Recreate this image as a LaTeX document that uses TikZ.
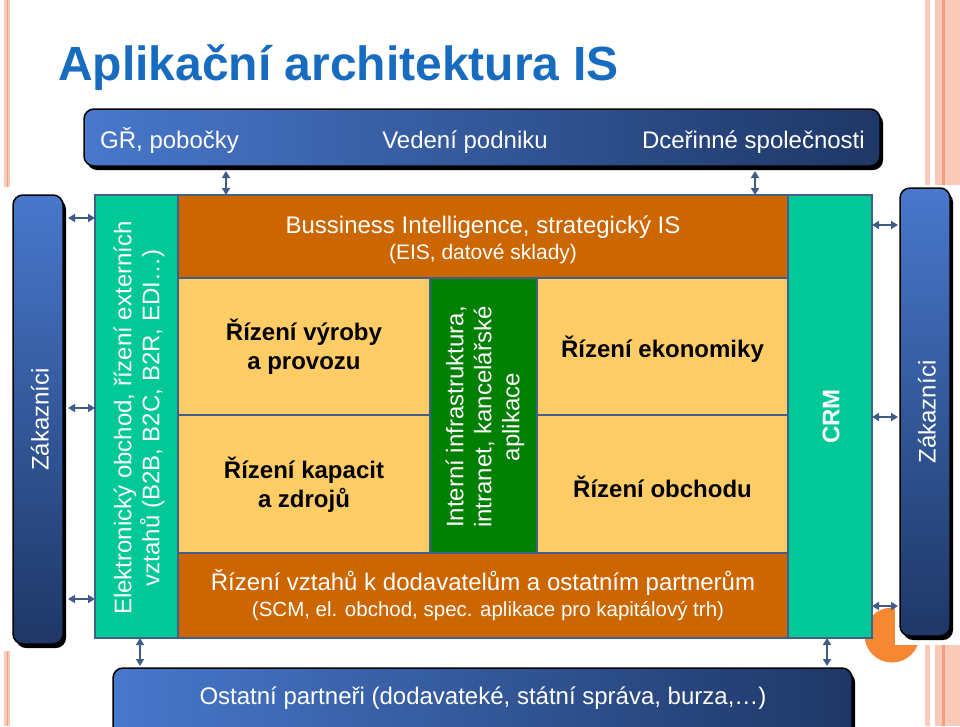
\documentclass[tikz,border=0pt]{standalone}
\usepackage{fontspec}
\setmainfont{Liberation Sans}
\usetikzlibrary{arrows.meta,shadows,calc}
\definecolor{titleblue}{RGB}{23,108,192}
\definecolor{barl}{RGB}{72,120,204}
\definecolor{bard}{RGB}{30,55,102}
\definecolor{obrown}{RGB}{204,102,0}
\definecolor{lorange}{RGB}{255,204,102}
\definecolor{dgreen}{RGB}{0,128,0}
\definecolor{tealc}{RGB}{0,200,150}
\definecolor{edgec}{RGB}{64,96,140}
\definecolor{arrowc}{RGB}{62,92,135}
\definecolor{pinkl}{RGB}{250,202,184}
\definecolor{pinkd}{RGB}{242,160,125}
\definecolor{circc}{RGB}{246,136,52}
\begin{document}
\begin{tikzpicture}[x=1pt,y=-1pt,
  bluebox/.style={rectangle, rounded corners=10pt, draw=black, line width=1.5pt, inner sep=0pt, outer sep=0pt,
    drop shadow={shadow xshift=3pt, shadow yshift=-4pt, fill=black, opacity=1}},
  cell/.style={rectangle, draw=edgec, line width=1.5pt, inner sep=0pt, outer sep=0pt, align=center},
  wtext/.style={text=white, inner sep=0pt, align=center, font=\fontsize{24}{28}\selectfont},
  btext/.style={text=black, inner sep=0pt, align=center, font=\fontsize{24}{29}\selectfont\bfseries},
  arr/.style={{Triangle[length=7pt,width=8pt]}-{Triangle[length=7pt,width=8pt]}, line width=1.7pt, draw=arrowc}]
\useasboundingbox (0,0) rectangle (960,726);
\fill[white] (0,0) rectangle (960,726);
% slide decoration
\fill[pinkl] (4,0) rectangle (10,726);
\draw[pinkd, line width=1pt] (7,0) -- (7,726);
\fill[pinkl] (925,0) rectangle (930,726);
\fill[pinkl] (935,0) rectangle (960,726);
\fill[pinkd] (942,0) rectangle (945,726);
\fill[circc] (892,635) circle (27.5pt);
\fill[white] (0,187) rectangle (90,651);
\fill[white] (895,185) rectangle (960,645);
% title
\node[anchor=base west, inner sep=0pt, text=titleblue, font=\fontsize{48}{56}\selectfont\bfseries] (title) at (58,80) {Aplikační architektura IS};
% top bar
\node[bluebox, left color=barl, right color=bard, minimum width=796pt, minimum height=57pt] (top) at (482,137.5) {};
\node[wtext, anchor=base west] (gr) at (100,148) {GŘ, pobočky};
\node[wtext, anchor=base] (ved) at (465,148) {Vedení podniku};
\node[wtext, anchor=base east] (dcer) at (865,148) {Dceřinné společnosti};
% side boxes
\node[bluebox, top color=barl, bottom color=bard, minimum width=50pt, minimum height=449pt] (lz) at (38,419.5) {};
\node[wtext, rotate=90] (lzt) at (40,419.5) {Zákazníci};
\node[bluebox, top color=barl, bottom color=bard, minimum width=50pt, minimum height=448pt] (rz) at (925,412) {};
\node[wtext, rotate=90] (rzt) at (927,412) {Zákazníci};
% bottom bar
\node[bluebox, left color=barl, right color=bard, minimum width=739pt, minimum height=70pt] (bot) at (482.5,703) {};
\node[wtext, anchor=base] (bott) at (483,704) {Ostatní partneři (dodavateké, státní správa, burza,…)};
% main cells
\node[cell, fill=tealc, minimum width=83pt, minimum height=443pt] (ec) at (136.5,416.5) {};
\node[wtext, rotate=90] (ect) at (139,418) {Elektronický obchod, řízení externích\\vztahů (B2B, B2C, B2R, EDI…)};
\node[cell, fill=obrown, minimum width=610pt, minimum height=83pt] (bi) at (483,236.5) {};
\node[wtext, anchor=base] (bit1) at (483,233) {Bussiness Intelligence, strategický IS};
\node[wtext, anchor=base, font=\fontsize{21}{26}\selectfont] (bit2) at (483,259.5) {(EIS, datové sklady)};
\node[cell, fill=lorange, minimum width=252pt, minimum height=137pt] (vyr) at (304,346.5) {};
\node[btext] (vyrt) at (304,347) {Řízení výroby\\a provozu};
\node[cell, fill=lorange, minimum width=252pt, minimum height=138pt] (kap) at (304,484) {};
\node[btext] (kapt) at (304,485) {Řízení kapacit\\a zdrojů};
\node[cell, fill=dgreen, minimum width=107pt, minimum height=275pt] (int) at (483.5,415.5) {};
\node[wtext, rotate=90] (intt) at (485,417) {Interní infrastruktura,\\intranet, kancelářské\\aplikace};
\node[cell, fill=lorange, minimum width=251pt, minimum height=137pt] (eko) at (662.5,346.5) {};
\node[btext] (ekot) at (662.5,349) {Řízení ekonomiky};
\node[cell, fill=lorange, minimum width=251pt, minimum height=138pt] (obch) at (662.5,484) {};
\node[btext] (obcht) at (662.5,487) {Řízení obchodu};
\node[cell, fill=obrown, minimum width=610pt, minimum height=85pt] (scm) at (483,595.5) {};
\node[wtext, anchor=base] (scmt1) at (483,590) {Řízení vztahů k dodavatelům a ostatním partnerům};
\node[wtext, anchor=base, font=\fontsize{20.5}{26}\selectfont] (scmt2) at (488,616) {(SCM, el. obchod, spec. aplikace pro kapitálový trh)};
\node[cell, fill=tealc, minimum width=84pt, minimum height=443pt] (crm) at (830,416.5) {};
\node[wtext, rotate=90, font=\fontsize{24}{28}\selectfont\bfseries] (crmt) at (831,416.5) {CRM};
% connectors
\draw[arr] ($(226,0 |- top.south)+(0,5)$) -- (226,0 |- bi.north);
\draw[arr] ($(755,0 |- top.south)+(0,5)$) -- (755,0 |- crm.north);
\draw[arr] (140,0 |- ec.south) -- ($(140,0 |- bot.north)+(0,-2)$);
\draw[arr] (827,0 |- crm.south) -- ($(827,0 |- bot.north)+(0,-2)$);
\draw[arr] ($(lz.east |- 0,218)+(5,0)$) -- (ec.west |- 0,218);
\draw[arr] ($(lz.east |- 0,408)+(5,0)$) -- (ec.west |- 0,408);
\draw[arr] ($(lz.east |- 0,599)+(5,0)$) -- (ec.west |- 0,599);
\draw[arr] (crm.east |- 0,225) -- ($(rz.west |- 0,225)+(-2,0)$);
\draw[arr] (crm.east |- 0,417) -- ($(rz.west |- 0,417)+(-2,0)$);
\draw[arr] (crm.east |- 0,606) -- ($(rz.west |- 0,606)+(-2,0)$);
\end{tikzpicture}
\end{document}
